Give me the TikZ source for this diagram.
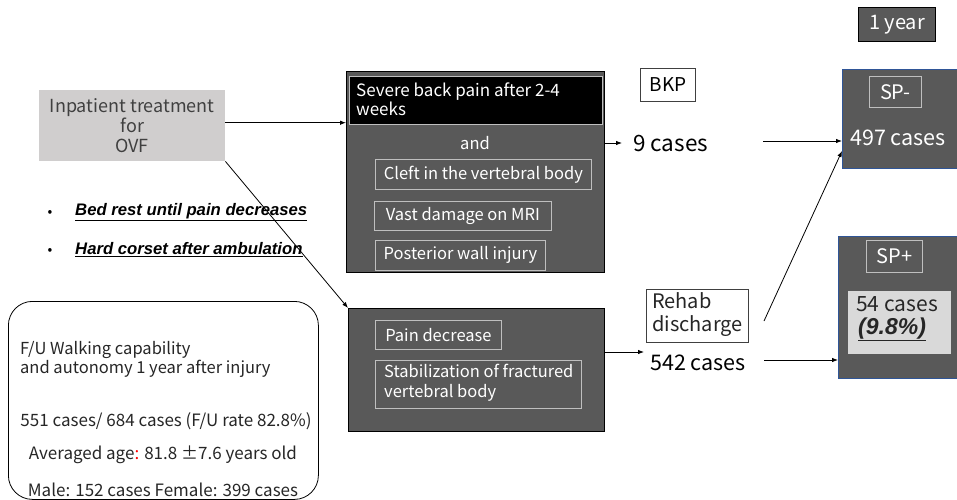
\documentclass[tikz,border=0pt]{standalone}
\usepackage{fontspec}
\setmainfont{Noto Sans CJK JP}
\newfontfamily\arialf{Liberation Sans}
\usetikzlibrary{arrows.meta}
\definecolor{darkfill}{HTML}{595959}
\definecolor{lightfill}{HTML}{D0CECE}
\definecolor{paler}{HTML}{D9D9D9}
\definecolor{innerline}{HTML}{BFBFBF}
\definecolor{txtdark}{HTML}{404040}
\definecolor{spblue}{HTML}{2F5597}
\definecolor{redc}{HTML}{FF0000}
\newcommand{\fs}[2]{\fontsize{#1}{#2}\selectfont}
\tikzset{
  arr/.style={draw=black, line width=0.8pt, -{Latex[length=6pt,width=4.5pt]}},
  darkbox/.style={fill=darkfill, draw=black, line width=0.8pt, anchor=north west, inner sep=0pt},
  spbox/.style={fill=darkfill, draw=spblue, line width=0.8pt, anchor=north west, inner sep=0pt},
  inbox/.style={draw=innerline, line width=0.8pt, text=white, anchor=north west, inner sep=0pt, font=\fs{16.5}{19}},
  whitebox/.style={draw=txtdark, fill=white, line width=0.8pt, anchor=north west, inner sep=0pt},
  plain/.style={inner sep=0pt},
}
\begin{document}
\begin{tikzpicture}[x=1pt,y=-1pt]
\useasboundingbox (0,0) rectangle (957,499);
% 1 year
\node[darkbox, minimum width=77pt, minimum height=34pt, text=white, font=\fs{20}{22}] (year) at (858,7) {1 year};
% Inpatient
\node[fill=lightfill, anchor=north west, inner sep=0pt, minimum width=186pt, minimum height=71pt, text=txtdark, align=center, font=\fs{18}{20}] (inp) at (39,90) {Inpatient treatment\\for\\OVF};
% upper dark box
\node[darkbox, minimum width=258pt, minimum height=201pt] (upper) at (346,71) {};
\node[fill=black, draw=innerline, line width=0.8pt, anchor=north west, inner sep=0pt, minimum width=253pt, minimum height=48pt] (severe) at (349,76) {};
\node[plain, anchor=north west, text=white, align=left, font=\fs{17}{19}] (severetxt) at (356,83) {Severe back pain after 2-4\\weeks};
\node[plain, text=white, font=\fs{16.5}{19}] (and) at (475,143) {and};
\node[inbox, minimum width=216pt, minimum height=30pt] (cleft) at (375,159) {Cleft in the vertebral body};
\node[inbox, minimum width=177pt, minimum height=29pt] (vast) at (374,201) {Vast damage on MRI};
\node[inbox, minimum width=170pt, minimum height=30pt] (post) at (375,240) {Posterior wall injury};
% BKP
\node[whitebox, minimum width=55pt, minimum height=33pt, font=\fs{19}{21}] (bkp) at (640,68) {BKP};
% 9 cases
\node[plain, anchor=west, font=\fs{22.5}{24}] (nine) at (633,143) {9 cases};
\coordinate (ninetip) at (622,143);
% SP- box
\node[spbox, minimum width=118pt, minimum height=99pt] (spm) at (842,69) {};
\node[inbox, minimum width=52pt, minimum height=31pt, font=\fs{20}{22}] (spmlab) at (869,76) {SP-};
\node[plain, text=white, font=\fs{21.5}{24}] (n497) at (898,138) {497 cases};
% SP+ box
\node[spbox, minimum width=122pt, minimum height=142pt] (spp) at (838,236) {};
\node[inbox, minimum width=56pt, minimum height=32pt, font=\fs{20}{22}] (spplab) at (866,240) {SP+};
\node[fill=paler, anchor=north west, inner sep=0pt, minimum width=103pt, minimum height=63pt] (n54box) at (848,291) {};
\node[plain, anchor=north west, align=left, text=black!85, font=\fs{21}{23}] (n54) at (856,296) {54 cases\\\hspace*{2pt}{\arialf\bfseries\itshape\fs{23}{23}\underline{(9.8\%)}}};
% Rehab
\node[whitebox, minimum width=102pt, minimum height=53pt] (rehab) at (646,289) {};
\node[plain, anchor=north west, align=left, font=\fs{20}{23}, text=black!85] (rehabtxt) at (652,292) {Rehab\\discharge};
% 542 cases
\node[plain, anchor=west, font=\fs{21.5}{24}] (n542) at (650,363) {542 cases};
\coordinate (t542) at (644,352);
% lower dark box
\node[darkbox, minimum width=256pt, minimum height=123pt] (lower) at (348,308) {};
\node[inbox, minimum width=126pt, minimum height=29pt] (pain) at (375,320) {Pain decrease};
\node[draw=innerline, line width=0.8pt, anchor=north west, inner sep=0pt, minimum width=206pt, minimum height=48pt] (stab) at (375,360) {};
\node[plain, anchor=north west, align=left, text=white, font=\fs{16.5}{19.5}] (stabtxt) at (384,364) {Stabilization of fractured\\vertebral body};
% bullets
\node[plain, font=\fs{14}{16}] (b1) at (50,213) {\textbullet};
\node[plain, anchor=west, font=\arialf\bfseries\itshape\fs{16.7}{18}] (bed) at (75,212) {\underline{Bed rest until pain decreases}};
\node[plain, font=\fs{14}{16}] (b2) at (50,251) {\textbullet};
\node[plain, anchor=west, font=\arialf\bfseries\itshape\fs{16.7}{18}] (hard) at (75,250) {\underline{Hard corset after ambulation}};
% rounded info box
\node[draw=black, line width=0.8pt, rounded corners=24pt, anchor=north west, inner sep=0pt, minimum width=310pt, minimum height=198pt] (info) at (8,301) {};
\node[plain, anchor=north west, align=left, font=\fs{16.5}{19.5}, text=black!85] (fu) at (20,341) {F/U Walking capability\\and autonomy 1 year after injury};
\node[plain, font=\fs{17}{18}, text=black!85] (cases551) at (166,421) {551 cases/ 684 cases (F/U rate 82.8\%)};
\node[plain, font=\fs{17}{18}, text=black!85] (age) at (163,455) {Averaged age{\color{redc}:} 81.8 ±7.6 years old};
\node[plain, font=\fs{17}{18}, text=black!85] (male) at (163,490) {Male: 152 cases Female: 399 cases};
% connectors
\draw[arr] ([yshift=3pt]inp.east) -- ([yshift=3pt]inp.east -| upper.west);
\draw[arr] (inp.south east) -- (lower.north west);
\draw[arr] (upper.east |- ninetip) -- (ninetip);
\coordinate (s1) at (763,141);
\draw[arr] (s1) -- (s1 -| spm.west);
\coordinate (s2) at (764,321);
\coordinate (e2) at (842,151);
\draw[arr] (s2) -- (e2);
\draw[arr] (lower.east |- t542) -- (t542);
\coordinate (s3) at (764,360);
\draw[arr] (s3) -- (s3 -| spp.west);
\end{tikzpicture}
\end{document}
